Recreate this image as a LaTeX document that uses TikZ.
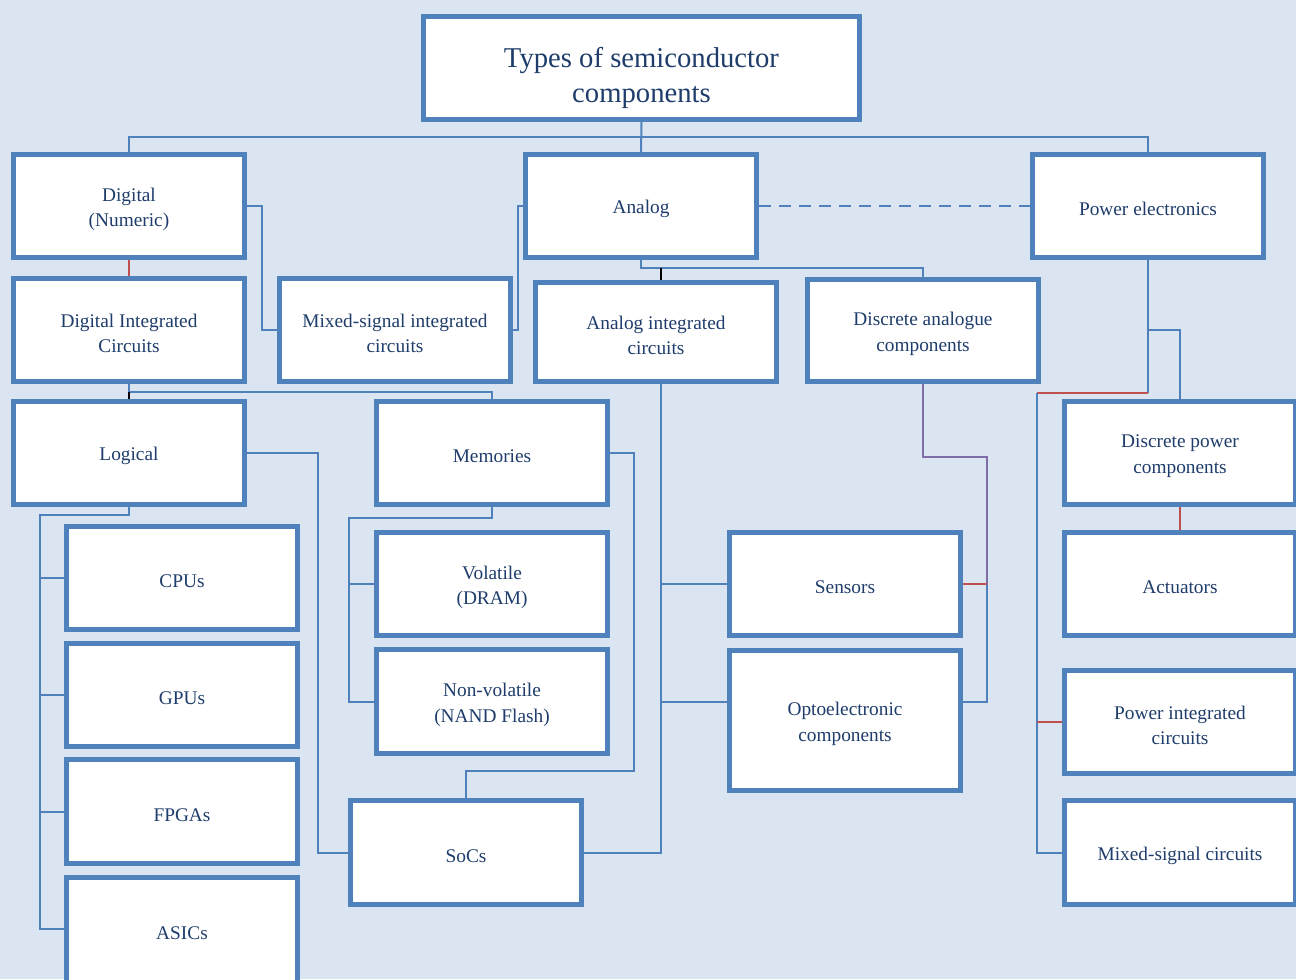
\documentclass[tikz,border=0pt]{standalone}
\usepackage{fontspec}
\setmainfont{Liberation Serif}
\usetikzlibrary{backgrounds}
\definecolor{bgc}{HTML}{DBE5F1}
\definecolor{bord}{HTML}{4F81BD}
\definecolor{txt}{HTML}{1F3D6B}
\definecolor{redl}{HTML}{C0504D}
\definecolor{purp}{HTML}{7F6DA8}
\tikzset{
 box/.style={draw=bord, fill=white, line width=3.9pt, inner sep=0pt},
 boxtext/.style={text=txt, align=center, font=\fontsize{14.5}{19}\selectfont, inner sep=0pt, yshift=-2.4pt},
 titletext/.style={boxtext, font=\fontsize{21.5}{26.5}\selectfont, yshift=-5.2pt},
 conn/.style={draw=bord, line width=1.5pt},
 rconn/.style={draw=redl, line width=1.5pt},
 pconn/.style={draw=purp, line width=1.5pt},
 kconn/.style={draw=black, line width=1.2pt},
}
\newcommand\bxg[8]{\node[#1, minimum width={(#6-#4-5)*0.75pt}, minimum height={(#7-#5-5)*0.75pt}] (#3) at ({(#4+#6)/2},{(#5+#7)/2}) {};
\node[#2] (#3-text) at (#3.center) {#8};}
\newcommand\bx{\bxg{box}{boxtext}}
\begin{document}
\begin{tikzpicture}[x=0.75pt,y=-0.75pt]
\useasboundingbox (0,0) rectangle (1296,979);
\clip (0,0) rectangle (1296,979);
\begin{scope}[on background layer]
\fill[bgc] (0,0) rectangle (1296,979);
\end{scope}
% boxes
\bxg{box}{titletext}{title}{421}{14}{862}{122}{Types of semiconductor\\components}
\bx{digital}{11}{152}{247}{260}{Digital\\(Numeric)}
\bx{analog}{523}{152}{759}{260}{Analog}
\bx{power}{1030}{152}{1266}{260}{Power electronics}
\bx{dic}{11}{276}{247}{384}{Digital Integrated\\Circuits}
\bx{msic}{277}{276}{513}{384}{Mixed-signal integrated\\circuits}
\bx{aic}{533}{280}{779}{384}{Analog integrated\\circuits}
\bx{dac}{805}{277}{1041}{384}{Discrete analogue\\components}
\bx{logical}{11}{399}{247}{507}{Logical}
\bx{mem}{374}{399}{610}{507}{Memories}
\bx{dpc}{1062}{399}{1298}{507}{Discrete power\\components}
\bx{cpu}{64}{524}{300}{632}{CPUs}
\bx{vol}{374}{530}{610}{638}{Volatile\\(DRAM)}
\bx{sens}{727}{530}{963}{638}{Sensors}
\bx{act}{1062}{530}{1298}{638}{Actuators}
\bx{gpu}{64}{641}{300}{749}{GPUs}
\bx{nvol}{374}{647}{610}{756}{Non-volatile\\(NAND Flash)}
\bx{opto}{727}{648}{963}{793}{Optoelectronic\\components}
\bx{pic}{1062}{668}{1298}{776}{Power integrated\\circuits}
\bx{fpga}{64}{757}{300}{866}{FPGAs}
\bx{soc}{348}{798}{584}{907}{SoCs}
\bx{msc}{1062}{798}{1298}{907}{Mixed-signal circuits}
\bx{asic}{64}{875}{300}{985}{ASICs}
% connectors
\coordinate (lb) at (40,929);
\coordinate (mb) at (349,702);
\coordinate (ab) at (661,853);
\coordinate (ob) at (661,702);
\coordinate (db) at (987,702);
\coordinate (pb) at (1037,853);
\begin{scope}[on background layer]
\draw[conn] (title.south) -- (analog.north);
\draw[conn] (digital.north) -- (129,137) -| (power.north);
\draw[rconn] (digital.south) -- (dic.north);
\draw[conn] (digital.east) -| (262,330) -- (msic.west);
\draw[conn] (analog.west) -| (518,330) -- (msic.east);
\draw[conn,dashed,dash pattern=on 9pt off 6pt] (analog.east) -- (power.west);
\draw[conn] (analog.south) |- (923,268) -- (dac.north);
\draw[kconn] (aic.north -| ab) -- (661,268);
\draw[conn] (dic.south) |- (492,392) -- (mem.north);
\draw[kconn] (logical.north) -- (129,392);
\draw[conn] (logical.south) |- (40,515) -- (lb) -- (asic.west |- lb);
\draw[conn] (cpu.west) -- (cpu.west -| lb);
\draw[conn] (gpu.west) -- (gpu.west -| lb);
\draw[conn] (fpga.west) -- (fpga.west -| lb);
\draw[conn] (logical.east) -| (318,853) -- (soc.west |- ab);
\draw[conn] (mem.south) |- (349,518) -- (mb) -- (nvol.west |- mb);
\draw[conn] (vol.west) -- (vol.west -| mb);
\draw[conn] (mem.east) -| (634,771) -| (soc.north);
\draw[conn] (aic.south -| ab) -- (ab) -- (soc.east |- ab);
\draw[conn] (sens.west) -- (sens.west -| ab);
\draw[conn] (ob) -- (opto.west |- ob);
\draw[pconn] (dac.south) |- (987,457) -- (987,584);
\draw[conn] (987,584) -- (db) -- (opto.east |- db);
\draw[rconn] (sens.east) -- (987,584);
\draw[conn] (power.south) |- (1180,330) -- (dpc.north);
\draw[conn] (1148,330) -- (1148,393);
\draw[rconn] (1148,393) -- (1037,393);
\draw[conn] (1037,393) -- (pb) -- (msc.west |- pb);
\draw[rconn] (pic.west) -- (pic.west -| pb);
\draw[rconn] (dpc.south) -- (act.north);
\end{scope}
\end{tikzpicture}
\end{document}
